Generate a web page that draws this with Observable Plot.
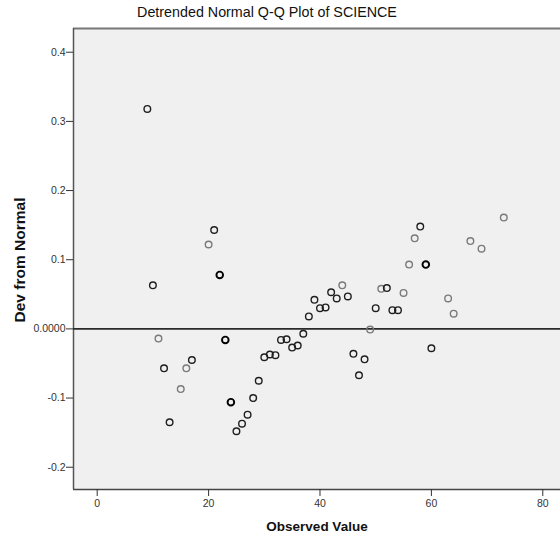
<!DOCTYPE html>
<html>
<head>
<meta charset="utf-8">
<script src="https://cdn.jsdelivr.net/npm/d3@7"></script>
<script src="https://cdn.jsdelivr.net/npm/@observablehq/plot@0.6"></script>
<style>
  body { margin: 0; background: #fff; }
  #wrap { position: relative; width: 560px; height: 546px; overflow: hidden; }
  #title { position: absolute; left: 0; top: 4px; width: 534px; text-align: center;
    font-family: "Liberation Sans", Arial, sans-serif; font-size: 14.3px; color: #111; }
  #chart { position: absolute; left: 0; top: 0; }
  #chart svg text { font-family: "Liberation Sans", Arial, sans-serif; }
</style>
</head>
<body>
<div id="wrap"><div id="chart"></div><div id="title">Detrended Normal Q-Q Plot of SCIENCE</div></div>
<script>
const observed = [9,10,11,12,13,15,16,17,20,21,22,23,24,25,26,27,28,29,30,31,32,33,34,35,36,37,38,39,40,41,42,43,44,45,46,47,48,49,50,51,52,53,54,55,56,57,58,59,60,63,64,67,69,73];
const deviation = [0.318,0.063,-0.014,-0.057,-0.135,-0.087,-0.057,-0.045,0.122,0.143,0.078,-0.016,-0.106,-0.148,-0.137,-0.124,-0.100,-0.075,-0.041,-0.037,-0.038,-0.016,-0.015,-0.027,-0.024,-0.007,0.018,0.042,0.030,0.031,0.053,0.044,0.063,0.047,-0.036,-0.067,-0.044,-0.001,0.030,0.058,0.059,0.027,0.027,0.052,0.093,0.131,0.148,0.093,-0.028,0.044,0.022,0.127,0.116,0.161];
// marker tone: 1 = light, 2 = normal, 3 = heavy
const tone = [2,2,1,2,2,1,1,2,1,2,3,3,3,2,2,2,2,2,2,2,2,2,2,2,2,2,2,2,2,2,2,2,1,2,2,2,2,1,2,1,2,2,2,1,1,1,2,3,2,1,1,1,1,1];
const xTicks = [0,20,40,60,80];
const yTicks = [-0.2,-0.1,0,0.1,0.2,0.3,0.4];
const xLabel = "Observed Value";
const yLabel = "Dev from Normal";

const data = observed.map((x, i) => ({x, y: deviation[i], t: tone[i]}));
const strokeFor = t => t === 1 ? "#7a7a7a" : t === 3 ? "#000" : "#1e1e1e";
const yFmt = d => d === 0 ? "0.0000" : d3.format(".1f")(d).replace("\u2212", "-");

const chart = Plot.plot({
  width: 560,
  height: 546,
  marginLeft: 73,
  marginRight: 0,
  marginTop: 28,
  marginBottom: 57,
  style: {background: "transparent", fontSize: "10.5px", color: "#333"},
  x: {domain: [-4.255, 83.18], label: null},
  y: {domain: [-0.2322, 0.4343], label: null},
  marks: [
    Plot.frame({fill: "#f0f0f0", stroke: null}),
    Plot.ruleY([0.4343], {stroke: "#777", strokeWidth: 2}),
    Plot.ruleX([-4.255], {stroke: "#555", strokeWidth: 1.5}),
    Plot.ruleY([-0.2322], {stroke: "#444", strokeWidth: 1.5}),
    Plot.axisX({ticks: xTicks, tickSize: 7, tickPadding: 3, tickFormat: d => String(d), stroke: "#333", fill: "#333", label: null}),
    Plot.axisY({ticks: yTicks, tickSize: 7, tickPadding: 1, tickFormat: yFmt, stroke: "#333", fill: "#333", label: null}),
    Plot.ruleY([0], {stroke: "#2a2a2a", strokeWidth: 1.6}),
    Plot.dot(data, {x: "x", y: "y", r: 3.3, fill: "none",
      stroke: d => strokeFor(d.t), strokeWidth: d => d.t === 3 ? 1.9 : 1.4}),
    Plot.text([xLabel], {frameAnchor: "bottom", dy: 41, text: d => d, fontWeight: "bold", fontSize: 13.5, fill: "#111"}),
    Plot.text([yLabel], {frameAnchor: "left", textAnchor: "middle", dx: -53, dy: 1, rotate: -90, text: d => d, fontWeight: "bold", fontSize: 15.5, fill: "#111"})
  ]
});
document.getElementById("chart").appendChild(chart);
</script>
</body>
</html>
